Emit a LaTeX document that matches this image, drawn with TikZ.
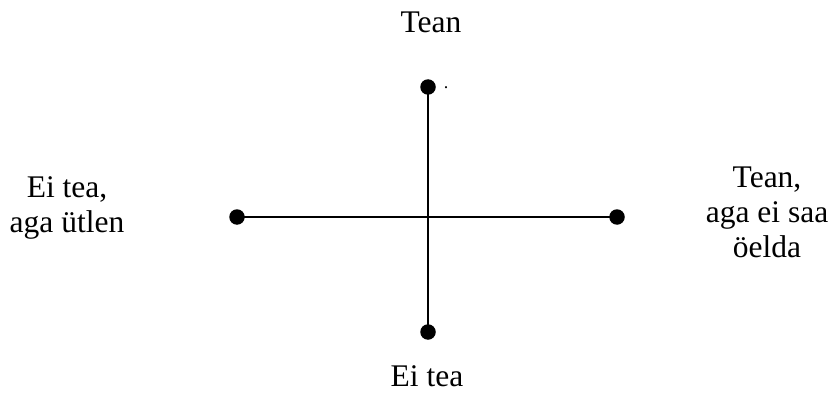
\documentclass[tikz,border=0pt]{standalone}
\usepackage{fontspec}
\setmainfont{Liberation Serif}
\begin{document}
\begin{tikzpicture}[
        x=1pt, y=-1pt,
        dot/.style={
            circle, 
            fill=black, 
            inner sep=0pt, 
            minimum size=15.5pt
        },
        txt/.style={
            align=center, 
            inner sep=0pt, 
            font=\fontsize{31.5}{35}\selectfont
        },
        axis/.style={line width=2.6pt, draw=black}
    ]
    \useasboundingbox (0,0) rectangle (832,393);
    % Punktid
    \node[dot] (top) at (428, 87) {};
    \node[dot] (bottom) at (428, 332) {};
    \node[dot] (left) at (237, 217) {};
    \node[dot] (right) at (617, 217) {};
    
    % Teljed
    \draw[axis] (top.center) -- (bottom.center);
    \draw[axis] (left.center) -- (right.center);
    
    % Tekstid
    \node[txt, anchor=base] (tean) at (431, 33) {Tean};
    \node[txt, anchor=base] (eitea) at (427, 386) {Ei tea};
    \node[txt] (utlen) at (67, 208) {Ei tea,\\aga ütlen};
    \node[txt] (oelda) at (767, 212) {Tean,\\aga ei saa\\öelda};
    \node[inner sep=0pt, anchor=base, font=\fontsize{18}{20}\selectfont] (punkt) at (446, 89) {.};
\end{tikzpicture}
\end{document}
